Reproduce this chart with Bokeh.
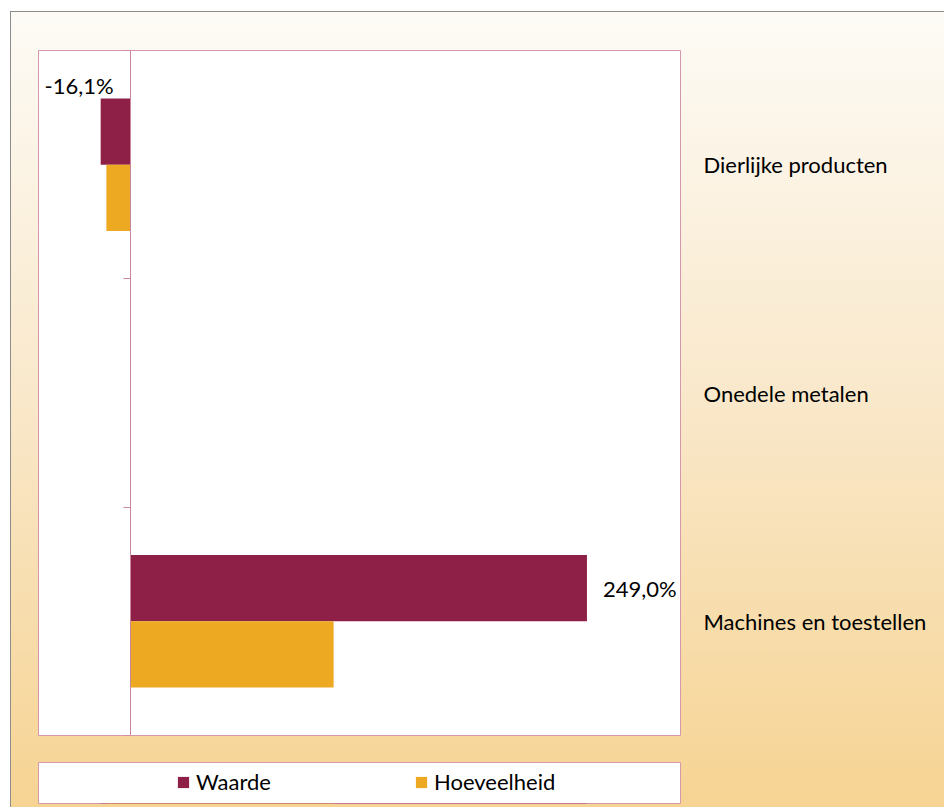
import math
from bokeh.plotting import figure
from bokeh.layouts import column
from bokeh.models import (ColumnDataSource, LinearAxis, FixedTicker, Range1d,
                          Legend, LegendItem, LabelSet)
from bokeh.core.properties import value
from bokeh.embed import file_html
from bokeh.resources import INLINE

# ---- data ----
categories = ["Dierlijke producten", "Onedele metalen", "Machines en toestellen"]
series = ["Waarde", "Hoeveelheid"]
waarde = [-16.1, float("nan"), 249.0]
hoeveelheid = [-13.0, float("nan"), 110.9]
x_min, x_max = -50, 300

# ---- style ----
colors = ["#8E2047", "#EEA922"]
pink = "#D497AC"
gray = "#8C8C8C"
font = "Lato"
fsize = "22px"

n = len(categories)
centers = [n - i - 0.5 for i in range(n)]
bar_h = 0.29

src = ColumnDataSource(dict(
    cat=categories,
    waarde=waarde,
    hoev=hoeveelheid,
    wy=[c + bar_h / 2 for c in centers],
    hy=[c - bar_h / 2 for c in centers],
))

# ---------------- main chart ----------------
p = figure(width=944, height=750, output_backend="svg", toolbar_location=None,
           x_range=Range1d(x_min, x_max), y_range=Range1d(0, n),
           x_axis_location=None, y_axis_location=None,
           min_border_left=37, min_border_right=264, min_border_top=50, min_border_bottom=15)
p.border_fill_color = None
p.background_fill_color = "white"
p.outline_line_color = pink
p.outline_line_width = 1
p.grid.visible = False

r1 = p.hbar(y="wy", height=bar_h, left=0, right="waarde", source=src,
            fill_color=colors[0], line_color=None)
r2 = p.hbar(y="hy", height=bar_h, left=0, right="hoev", source=src,
            fill_color=colors[1], line_color=None)

# vertical axis at x = 0 with ticks at the category boundaries
bounds = list(range(n + 1))
ax0 = LinearAxis(fixed_location=0, ticker=FixedTicker(ticks=bounds),
                 major_label_overrides={b: "" for b in bounds})
ax0.axis_line_color = "#C9869C"
ax0.major_tick_line_color = "#C9869C"
ax0.major_tick_out = 7
ax0.major_tick_in = 0
ax0.minor_tick_line_color = None
p.add_layout(ax0, "left")

# category labels on the right
axr = LinearAxis(ticker=FixedTicker(ticks=centers),
                 major_label_overrides={c: cat for c, cat in zip(centers, categories)})
axr.axis_line_color = None
axr.major_tick_line_color = None
axr.minor_tick_line_color = None
axr.major_tick_out = 0
axr.major_label_standoff = 23
axr.major_label_text_font = font
axr.major_label_text_font_size = fsize
axr.major_label_text_color = "black"
p.add_layout(axr, "right")

# data labels on the Waarde bars
def fmt(v):
    return f"{v:.1f}%".replace(".", ",")

pos = [(v, c) for v, c in zip(waarde, centers) if not math.isnan(v) and v >= 0]
neg = [(v, c) for v, c in zip(waarde, centers) if not math.isnan(v) and v < 0]
pos_src = ColumnDataSource(dict(x=[v for v, _ in pos], y=[c + bar_h / 2 for _, c in pos],
                                text=[fmt(v) for v, _ in pos]))
neg_src = ColumnDataSource(dict(x=[v for v, _ in neg], y=[c + bar_h for _, c in neg],
                                text=[fmt(v) for v, _ in neg]))
p.add_layout(LabelSet(x="x", y="y", text="text", source=pos_src, x_offset=16,
                      text_align="left", text_baseline="middle",
                      text_font=value(font), text_font_size=value(fsize), text_color="black"))
p.add_layout(LabelSet(x="x", y="y", text="text", source=neg_src, x_offset=13, y_offset=13,
                      text_align="right", text_baseline="middle",
                      text_font=value(font), text_font_size=value(fsize), text_color="black"))

# ---------------- legend strip ----------------
pl = figure(width=944, height=57, output_backend="svg", toolbar_location=None,
            x_range=Range1d(x_min, x_max), y_range=Range1d(100, 101),
            x_axis_location=None, y_axis_location=None,
            min_border_left=38, min_border_right=264, min_border_top=12, min_border_bottom=4)
pl.border_fill_color = None
pl.background_fill_color = "white"
pl.outline_line_color = pink
pl.outline_line_width = 1
pl.grid.visible = False
l1 = pl.hbar(y="wy", height=bar_h, left=0, right="waarde", source=src,
             fill_color=colors[0], line_color=None)
l2 = pl.hbar(y="hy", height=bar_h, left=0, right="hoev", source=src,
             fill_color=colors[1], line_color=None)
legend = Legend(items=[LegendItem(label=series[0], renderers=[l1]),
                       LegendItem(label=series[1], renderers=[l2])],
                orientation="horizontal", location=(138, 8),
                glyph_width=14, glyph_height=14, label_standoff=6,
                label_width=218, label_height=25, spacing=0, padding=0, margin=0,
                background_fill_alpha=0, border_line_color=None,
                label_text_font=font, label_text_font_size=fsize, label_text_color="black")
pl.add_layout(legend, "center")

# chart-area background: outer border and vertical gradient
def solid(c):
    return f"linear-gradient({c}, {c})"

layers = [
    (solid(gray), "100% 1px", "10px 11px"),
    (solid(gray), "1px 100%", "10px 11px"),
    ("linear-gradient(to bottom, #FDFBF6 0%, #F9E7C8 50%, #F6D391 100%)", "100% 100%", "11px 12px"),
]
layout = column(p, pl, spacing=0, width=944, height=807)
layout.styles = {
    "background-image": ", ".join(l[0] for l in layers),
    "background-size": ", ".join(l[1] for l in layers),
    "background-position": ", ".join(l[2] for l in layers),
    "background-repeat": "no-repeat",
}

open("out.html", "w").write(file_html(layout, INLINE))
